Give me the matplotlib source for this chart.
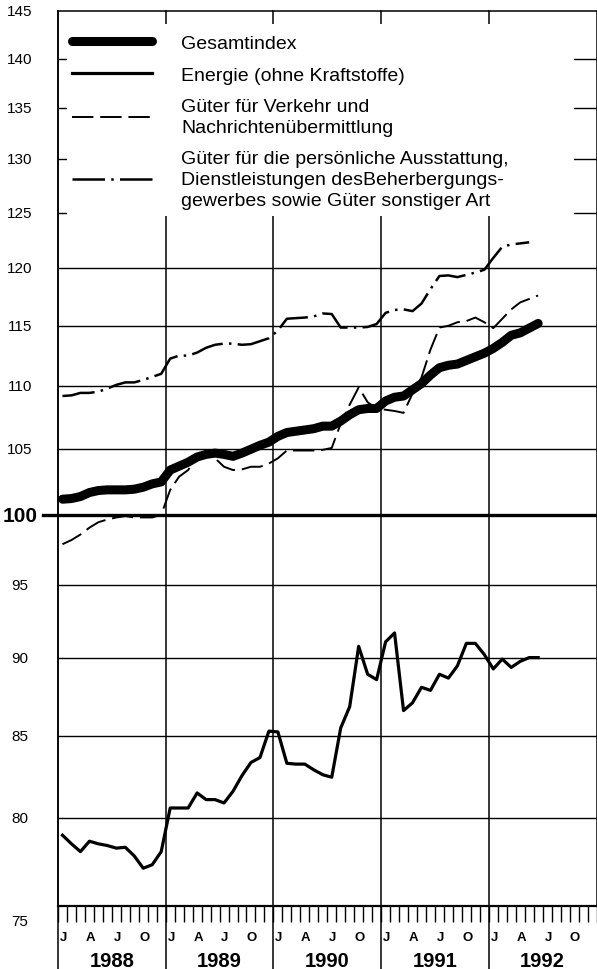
import matplotlib
matplotlib.use("Agg")
import matplotlib.pyplot as plt
import matplotlib.transforms as mtransforms
from matplotlib.patches import Rectangle
from matplotlib.ticker import NullLocator

plt.rcParams['font.family'] = ['Liberation Sans', 'DejaVu Sans']

# Monatswerte ab Januar 1988 (1985 = 100)
jahre = ["1988", "1989", "1990", "1991", "1992"]
monats_buchstaben = ["J", "A", "J", "O"]
y_ticks = [75, 80, 85, 90, 95, 100, 105, 110, 115, 120, 125, 130, 135, 140, 145]

gesamtindex = [101.2, 101.25, 101.4, 101.7, 101.85, 101.9, 101.9, 101.9, 101.95, 102.1, 102.35, 102.5,
               103.4, 103.7, 104.0, 104.4, 104.6, 104.7, 104.6, 104.45, 104.7, 105.0, 105.3, 105.55,
               106.0, 106.3, 106.4, 106.5, 106.6, 106.8, 106.8, 107.2, 107.7, 108.1, 108.2, 108.2,
               108.8, 109.1, 109.2, 109.7, 110.2, 110.9, 111.5, 111.7, 111.8, 112.1, 112.4, 112.7,
               113.1, 113.6, 114.2, 114.4, 114.8, 115.2]

energie = [79.0, 78.5, 78.05, 78.65, 78.5, 78.4, 78.25, 78.3, 77.8, 77.1, 77.3, 78.05,
           80.6, 80.6, 80.6, 81.5, 81.1, 81.1, 80.9, 81.6, 82.55, 83.35, 83.65, 85.3,
           85.25, 83.3, 83.25, 83.25, 82.9, 82.6, 82.45, 85.5, 86.85, 90.8, 88.95, 88.6,
           91.1, 91.7, 86.6, 87.1, 88.1, 87.9, 88.95, 88.7, 89.5, 91.0, 91.0, 90.25,
           89.3, 89.95, 89.4, 89.8, 90.05, 90.05]

verkehr = [97.9, 98.2, 98.6, 99.1, 99.5, 99.7, 99.85, 99.95, 99.85, 99.85, 99.85, 100.05,
           101.9, 102.9, 103.4, 104.4, 104.6, 104.3, 103.65, 103.4, 103.45, 103.65, 103.65, 103.9,
           104.3, 104.9, 104.9, 104.9, 104.9, 104.95, 105.1, 107.0, 108.5, 109.9, 108.7, 108.2,
           108.1, 108.0, 107.85, 109.4, 110.7, 113.0, 114.85, 115.0, 115.3, 115.4, 115.7, 115.3,
           114.8, 115.6, 116.4, 117.0, 117.3, 117.6]

ausstattung = [109.2, 109.25, 109.45, 109.45, 109.55, 109.8, 110.1, 110.3, 110.3, 110.5, 110.75, 111.0,
               112.25, 112.5, 112.5, 112.75, 113.15, 113.4, 113.5, 113.5, 113.4, 113.45, 113.7, 113.95,
               114.6, 115.6, 115.65, 115.7, 115.8, 116.05, 116.0, 114.85, 114.85, 114.85, 114.9, 115.15,
               116.1, 116.35, 116.4, 116.25, 116.9, 118.15, 119.3, 119.35, 119.2, 119.4, 119.6, 119.85,
               120.9, 121.9, 122.1, 122.2, 122.3]

labels = ["Gesamtindex",
          "Energie (ohne Kraftstoffe)",
          "Güter für Verkehr und\nNachrichtenübermittlung",
          "Güter für die persönliche Ausstattung,\nDienstleistungen desBeherbergungs-\ngewerbes sowie Güter sonstiger Art"]

fig = plt.figure(figsize=(5.97, 9.70), dpi=100)
ax = fig.add_axes([58 / 597, 1 - 906.7 / 970, 538.5 / 597, 894.4 / 970])
ax.set_yscale('log')
ax.set_ylim(75, 145)
ax.set_xlim(0, 60)
ax.yaxis.set_major_locator(NullLocator())
ax.yaxis.set_minor_locator(NullLocator())

# Gitter
for v in y_ticks[1:-1]:
    if v == 100:
        ax.axhline(v, xmin=-0.028, xmax=1, color='black', lw=2.4, clip_on=False, zorder=1)
    else:
        ax.axhline(v, color='black', lw=1.0, zorder=1)
for k in range(0, 5):
    ax.axvline(12 * k, ymin=-0.0705, ymax=1, color='black', lw=1.1, clip_on=False, zorder=1)

for s in ax.spines.values():
    s.set_linewidth(1.1)
ax.spines['bottom'].set_linewidth(1.6)

# Weisser Hintergrund der Legende
ax.add_patch(Rectangle((0.0167, 0.7711), 0.9423, 0.2147, transform=ax.transAxes,
                       facecolor='white', edgecolor='none', zorder=2))

x = [m + 0.5 for m in range(len(gesamtindex))]
l1, = ax.plot(x, gesamtindex, color='black', lw=6.5, solid_capstyle='round',
              solid_joinstyle='round', zorder=5)
l2, = ax.plot(x[:len(energie)], energie, color='black', lw=2.3, zorder=4)
l3, = ax.plot(x[:len(verkehr)], verkehr, color='black', lw=1.4, ls=(0, (11, 3.5)), zorder=4)
l4, = ax.plot(x[:len(ausstattung)], ausstattung, color='black', lw=1.8,
              ls=(0, (13, 2.5, 1, 2.5)), zorder=4)

leg = ax.legend([l1, l2, l3, l4], labels, loc='upper left', bbox_to_anchor=(0.026, 0.974),
                frameon=False, borderpad=0, borderaxespad=0, handlelength=4.1,
                handletextpad=1.5, labelspacing=0.72, fontsize=14)
for t in leg.get_texts():
    t.set_linespacing(1.32)

# x-Achse: Monatsstriche, Buchstaben, Jahre
ax.set_xticks(range(61))
ax.set_xticklabels([])
ax.tick_params(axis='x', direction='out', length=11.5, width=1.0)
trans_x = mtransforms.blended_transform_factory(ax.transData, ax.transAxes)
for j, jahr in enumerate(jahre):
    for i, b in enumerate(monats_buchstaben):
        ax.text(12 * j + 3 * i + 0.6, -0.0347, b, transform=trans_x, ha='center', va='center',
                fontsize=9.5, fontweight='bold')
    ax.text(12 * j + 6, -0.0612, jahr, transform=trans_x, ha='center', va='center',
            fontsize=14.5, fontweight='bold')

# y-Beschriftung
trans_y = mtransforms.blended_transform_factory(ax.transAxes, ax.transData)
for v in y_ticks:
    if v == 100:
        ax.text(-0.0705, v, str(v), transform=trans_y, ha='center', va='center',
                fontsize=15, fontweight='bold')
    elif v == 75:
        ax.annotate(str(v), xy=(-0.0705, v), xycoords=trans_y, xytext=(0, -11),
                    textcoords='offset points', ha='center', va='center', fontsize=11)
    else:
        ax.text(-0.0705, v, str(v), transform=trans_y, ha='center', va='center', fontsize=11)

fig.savefig("out.png", dpi=100)
